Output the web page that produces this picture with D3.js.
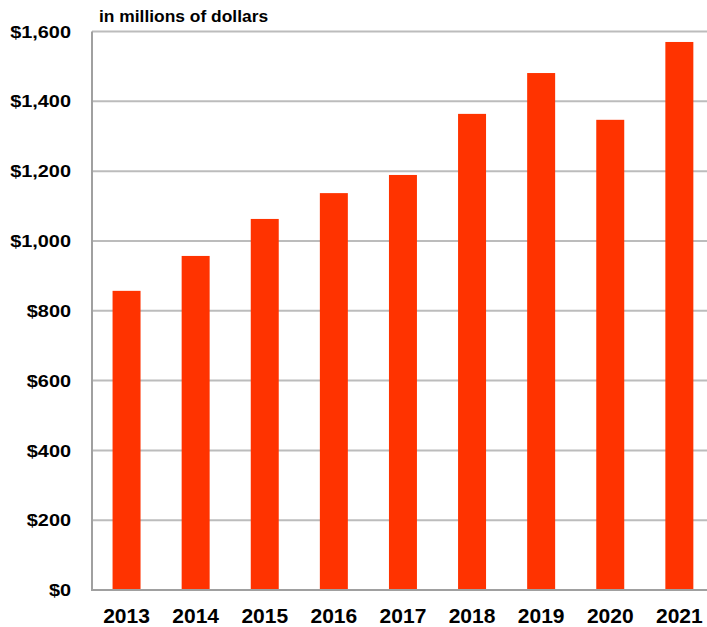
<!DOCTYPE html>
<html>
<head>
<meta charset="utf-8">
<script src="https://cdn.jsdelivr.net/npm/d3@7"></script>
<style>
  body { margin: 0; background: #fff; }
  text { font-family: "Liberation Sans", Arial, sans-serif; font-weight: bold; fill: #000; }
</style>
</head>
<body>
<div id="chart"></div>
<script>
// values (millions of dollars)
var years = ["2013", "2014", "2015", "2016", "2017", "2018", "2019", "2020", "2021"];
var revenue = [857, 957, 1063, 1137, 1189, 1364, 1481, 1347, 1570];
var yTicks = [0, 200, 400, 600, 800, 1000, 1200, 1400, 1600];
var unitLabel = "in millions of dollars";

var width = 707, height = 627;
var plotLeft = 92, plotTop = 31.5, plotBottom = 590;

var data = years.map(function(y, i) { return {year: y, value: revenue[i]}; });

var svg = d3.select("#chart")
    .append("svg")
    .attr("width", width)
    .attr("height", height);

// set the ranges
var x = d3.scaleBand()
    .domain(years)
    .range([plotLeft, plotLeft + 9 * 69.1])
    .paddingInner(0.595)
    .paddingOuter(0.2975);
var y = d3.scaleLinear().domain([0, 1600]).range([plotBottom, plotTop]);

// grid lines
svg.append("g")
    .selectAll("line")
    .data(yTicks.filter(function(d) { return d > 0; }))
    .enter().append("line")
    .attr("x1", plotLeft).attr("x2", width)
    .attr("y1", function(d) { return y(d); })
    .attr("y2", function(d) { return y(d); })
    .attr("stroke", "#bcbcbc")
    .attr("stroke-width", 2);

// bars
svg.append("g")
    .selectAll("rect")
    .data(data)
    .enter().append("rect")
    .attr("x", function(d) { return x(d.year); })
    .attr("y", function(d) { return y(d.value); })
    .attr("width", x.bandwidth())
    .attr("height", function(d) { return y(0) - y(d.value); })
    .attr("fill", "#ff3300");

// axis lines
svg.append("line")
    .attr("x1", plotLeft).attr("x2", plotLeft)
    .attr("y1", plotTop).attr("y2", plotBottom + 1)
    .attr("stroke", "#a0a0a0").attr("stroke-width", 2);
svg.append("line")
    .attr("x1", plotLeft - 1).attr("x2", width)
    .attr("y1", plotBottom).attr("y2", plotBottom)
    .attr("stroke", "#a0a0a0").attr("stroke-width", 2);

// y axis labels
var yAxis = d3.axisLeft(y)
    .tickValues(yTicks)
    .tickSize(0)
    .tickPadding(0)
    .tickFormat(function(d) { return "$" + d3.format(",")(d); });
var yg = svg.append("g")
    .attr("transform", "translate(71,0)")
    .call(yAxis);
yg.select(".domain").remove();
yg.selectAll("text")
    .attr("font-size", 17)
    .attr("font-family", null)
    .attr("dy", "0.36em")
    .attr("transform", "scale(1.17,1)");
yg.selectAll(".tick")
    .attr("transform", function(d) { return "translate(0," + y(d) + ")"; });

// x axis labels
var xAxis = d3.axisBottom(x).tickSize(0).tickPadding(0);
var xg = svg.append("g")
    .attr("transform", "translate(0,623)")
    .call(xAxis);
xg.select(".domain").remove();
xg.selectAll("text")
    .attr("font-size", 21)
    .attr("font-family", null)
    .attr("dy", 0)
    .attr("y", 0);

// unit label
svg.append("text")
    .attr("x", 99)
    .attr("y", 22)
    .attr("font-size", 17.4)
    .text(unitLabel);
</script>
</body>
</html>
